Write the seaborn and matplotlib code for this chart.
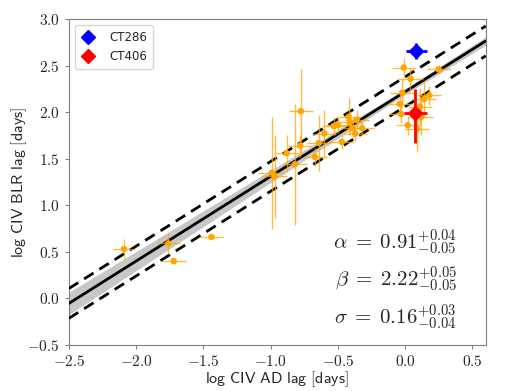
import numpy as np
import pandas as pd
import matplotlib
matplotlib.use("Agg")
import matplotlib.pyplot as plt
import seaborn as sns
from matplotlib.lines import Line2D
from matplotlib.ticker import FuncFormatter, MultipleLocator

sns.set_style("ticks")
plt.rcParams['mathtext.fontset'] = 'cm'
plt.rcParams['font.family'] = ['DejaVu Sans']

# sample of quasars: log AD lag, log BLR lag and their errors
ad_lag = [-2.09, -1.76, -1.72, -1.44,
          -0.99, -0.97, -0.88, -0.82, -0.78, -0.775, -0.67, -0.64, -0.60,
          -0.53, -0.50, -0.47, -0.42, -0.41, -0.39, -0.37, -0.36, -0.32,
          -0.04, -0.03, -0.02, -0.01, 0.02, 0.04, 0.09, 0.11, 0.12, 0.14, 0.18, 0.25]
blr_lag = [0.53, 0.59, 0.40, 0.66,
           1.35, 1.31, 1.56, 1.44, 1.64, 2.01, 1.52, 1.67, 1.77,
           1.85, 1.86, 1.68, 1.95, 1.89, 1.83, 1.77, 1.92, 1.83,
           2.09, 1.98, 2.21, 2.48, 1.86, 2.36, 1.82, 2.06, 1.95, 2.14, 2.18, 2.46]
ad_err = [0.085, 0.085, 0.09, 0.087,
          0.10, 0.09, 0.09, 0.09, 0.09, 0.087, 0.09, 0.09, 0.09,
          0.09, 0.09, 0.09, 0.09, 0.09, 0.09, 0.09, 0.09, 0.09,
          0.09, 0.09, 0.09, 0.09, 0.09, 0.09, 0.09, 0.09, 0.09, 0.09, 0.09, 0.09]
blr_err = [0.11, 0.11, 0.03, 0.02,
           0.60, 0.45, 0.20, 0.65, 0.12, 0.45, 0.10, 0.30, 0.25,
           0.10, 0.08, 0.08, 0.20, 0.12, 0.10, 0.08, 0.10, 0.06,
           0.12, 0.10, 0.15, 0.10, 0.10, 0.12, 0.25, 0.20, 0.20, 0.18, 0.10, 0.05]

# highlighted objects
special_names = ['CT286', 'CT406']
special_colors = ['blue', 'red']
special_x = [0.084, 0.076]
special_y = [2.66, 1.995]
special_xerr = [0.08, 0.085]
special_yerr_lo = [0.085, 0.33]
special_yerr_hi = [0.085, 0.25]

# fit results
alpha, beta, sigma = 0.91, 2.22, 0.16
fit_x = [-2.5, 0.6]
band_x = [-2.5, -1.5, -0.5, 0.0, 0.6]
band_hw = [0.12, 0.085, 0.045, 0.03, 0.045]

fig, ax = plt.subplots(figsize=(5.06, 3.91), dpi=100)
fig.subplots_adjust(left=0.136, right=0.960, bottom=0.118, top=0.951)

fx = np.array(fit_x)
bx = np.array(band_x)
bmid = alpha * bx + beta
ax.fill_between(bx, bmid - np.array(band_hw), bmid + np.array(band_hw),
                color='0.78', lw=0, zorder=1)
fit = pd.DataFrame({'x': np.concatenate([fx, fx, fx]),
                    'y': np.concatenate([alpha * fx + beta,
                                         alpha * fx + beta + sigma,
                                         alpha * fx + beta - sigma]),
                    'kind': ['fit'] * 2 + ['up'] * 2 + ['lo'] * 2})
sns.lineplot(data=fit[fit.kind == 'fit'], x='x', y='y', color='black', lw=2, ax=ax, zorder=3)
for k in ['up', 'lo']:
    sns.lineplot(data=fit[fit.kind == k], x='x', y='y', color='black', lw=2,
                 ax=ax, zorder=3, linestyle=(0, (4, 2.5)))

ax.errorbar(ad_lag, blr_lag, xerr=ad_err, yerr=blr_err, fmt='none',
            ecolor='orange', elinewidth=1, alpha=0.75, zorder=4)
pts = pd.DataFrame({'ad': ad_lag, 'blr': blr_lag})
sns.scatterplot(data=pts, x='ad', y='blr', color='orange', s=22,
                edgecolor='none', ax=ax, zorder=5)

handles = []
for i in range(len(special_names)):
    ax.errorbar(special_x[i], special_y[i], xerr=special_xerr[i],
                yerr=[[special_yerr_lo[i]], [special_yerr_hi[i]]],
                fmt='D', color=special_colors[i], ms=7, elinewidth=2, zorder=6)
    handles.append(Line2D([], [], ls='none', marker='D', ms=7,
                          color=special_colors[i], label=special_names[i]))

ax.set_xlim(-2.5, 0.6)
ax.set_ylim(-0.5, 3.0)
ax.xaxis.set_major_locator(MultipleLocator(0.5))
ax.yaxis.set_major_locator(MultipleLocator(0.5))
fmt = FuncFormatter(lambda v, p: r'$%.1f$' % v)
ax.xaxis.set_major_formatter(fmt)
ax.yaxis.set_major_formatter(fmt)
ax.tick_params(labelsize=11, color='0.5', length=3)
for s in ax.spines.values():
    s.set_color('0.5')

ax.set_xlabel(r'$\mathsf{log\ CIV\ AD\ lag\ [days]}$', fontsize=11.5, labelpad=0)
ax.set_ylabel(r'$\mathsf{log\ CIV\ BLR\ lag\ [days]}$', fontsize=11.5, labelpad=-1)

ax.text(0.93, 0.313, r'$\alpha\;=\;\mathsf{0.91}^{+0.04}_{-0.05}$', transform=ax.transAxes,
        ha='right', va='center', fontsize=15)
ax.text(0.93, 0.198, r'$\beta\;=\;\mathsf{2.22}^{+0.05}_{-0.05}$', transform=ax.transAxes,
        ha='right', va='center', fontsize=15)
ax.text(0.93, 0.083, r'$\sigma\;=\;\mathsf{0.16}^{+0.03}_{-0.04}$', transform=ax.transAxes,
        ha='right', va='center', fontsize=15)

ax.legend(handles=handles, loc='upper left', fontsize=8.5, handlelength=1.2,
          borderpad=0.5, labelspacing=0.5, handletextpad=1.2)
fig.savefig('out.png', dpi=100)
